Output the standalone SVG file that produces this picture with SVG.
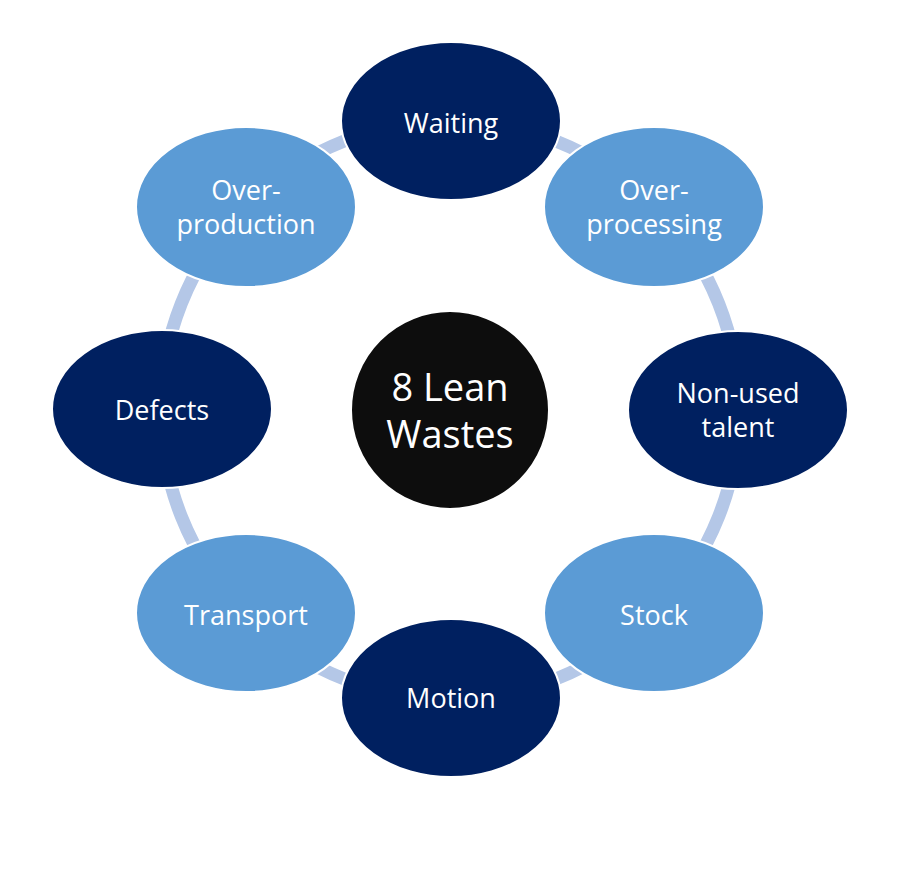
<svg xmlns="http://www.w3.org/2000/svg" width="900" height="872" viewBox="0 0 900 872">
<style>
.dark{fill:#002060;stroke:#ffffff;stroke-width:2}
.light{fill:#5b9bd5;stroke:#ffffff;stroke-width:2}
.t{fill:#ffffff;font-family:"Open Sans","Noto Sans","DejaVu Sans",sans-serif;font-size:27px;text-anchor:middle}
.c{font-size:38px}
</style>
<rect width="900" height="872" fill="#ffffff"/>
<g id="connectors">
<circle cx="450" cy="410" r="289" fill="none" stroke="#b4c7e7" stroke-width="13"/>
</g>
<g id="waiting"><ellipse class="dark" cx="451" cy="121" rx="110" ry="79"/><text class="t" x="451" y="133">Waiting</text></g>
<g id="overprocessing"><ellipse class="light" cx="654" cy="207" rx="110" ry="80"/><text class="t" x="654" y="200">Over-</text><text class="t" x="654" y="234">processing</text></g>
<g id="nonused"><ellipse class="dark" cx="738" cy="410" rx="110" ry="79"/><text class="t" x="738" y="403">Non-used</text><text class="t" x="738" y="437">talent</text></g>
<g id="stock"><ellipse class="light" cx="654" cy="613" rx="110" ry="79"/><text class="t" x="654" y="625">Stock</text></g>
<g id="motion"><ellipse class="dark" cx="451" cy="698" rx="110" ry="79"/><text class="t" x="451" y="708">Motion</text></g>
<g id="transport"><ellipse class="light" cx="246" cy="613" rx="110" ry="79"/><text class="t" x="246" y="625">Transport</text></g>
<g id="defects"><ellipse class="dark" cx="162" cy="409" rx="110" ry="79"/><text class="t" x="162" y="420">Defects</text></g>
<g id="overproduction"><ellipse class="light" cx="246" cy="207" rx="110" ry="80"/><text class="t" x="246" y="200">Over-</text><text class="t" x="246" y="234">production</text></g>
<g id="center"><circle cx="450" cy="410" r="99" fill="#0d0d0d" stroke="#ffffff" stroke-width="2"/><text class="t c" x="450" y="401">8 Lean</text><text class="t c" x="450" y="448">Wastes</text></g>
</svg>
